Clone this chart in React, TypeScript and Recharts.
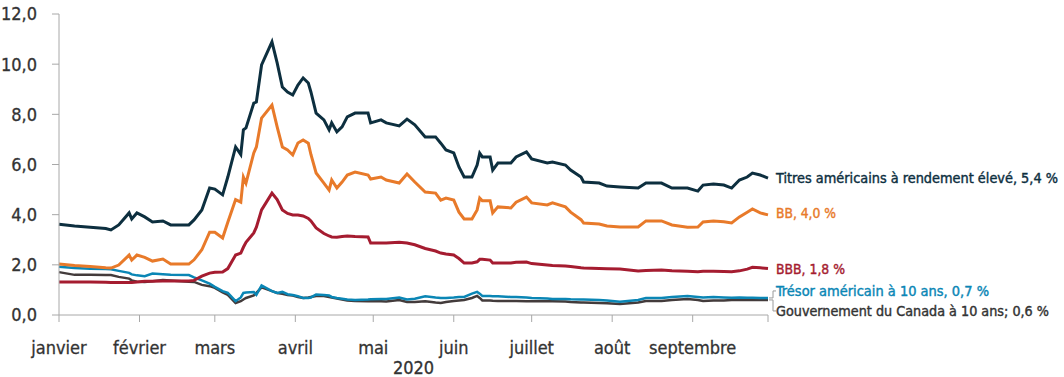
import { Line, LineChart, XAxis, YAxis } from 'recharts';

// day of year 2020 (0 = Jan 1) for each sampled point
const DAYS = [
  0, 6, 12, 18, 20, 23, 27, 28, 30, 33, 36, 40, 43, 50, 52, 55, 58, 60, 63, 65,
  68, 70, 71, 72, 75, 76, 78, 82, 84, 86, 88, 90, 92, 94, 96, 97, 99, 102, 104, 105,
  107, 109, 111, 114, 119, 120, 124, 126, 131, 134, 137, 141, 145, 147, 149, 152, 154, 156, 159, 161,
  162, 163, 166, 167, 169, 174, 176, 180, 182, 188, 190, 195, 197, 201, 202, 208, 211, 216, 223, 226,
  232, 236, 242, 246, 248, 252, 256, 259, 262, 265, 267, 270, 273,
];

const HIGH_YIELD = [
  3.62, 3.55, 3.5, 3.45, 3.39, 3.59, 4.07, 3.83, 4.07, 3.91, 3.71, 3.75, 3.59, 3.59, 3.79, 4.19, 5.06, 5.02, 4.79, 5.5,
  6.7, 6.4, 7.38, 7.46, 8.45, 8.49, 9.97, 10.89, 10.05, 9.09, 8.89, 8.77, 9.17, 9.45, 9.25, 8.89, 8.05, 7.78, 7.38, 7.66,
  7.3, 7.5, 7.9, 8.05, 8.05, 7.66, 7.78, 7.66, 7.54, 7.81, 7.58, 7.1, 7.1, 6.85, 6.58, 6.46, 5.9, 5.5, 5.5, 5.98,
  6.45, 6.3, 6.3, 5.78, 6.06, 6.06, 6.3, 6.5, 6.22, 6.06, 6.1, 5.98, 5.78, 5.5, 5.3, 5.26, 5.14, 5.1, 5.06, 5.26,
  5.26, 5.06, 5.06, 4.94, 5.18, 5.22, 5.18, 5.06, 5.38, 5.5, 5.66, 5.58, 5.46,
];

const BB = [
  2.03, 1.97, 1.93, 1.88, 1.87, 1.99, 2.39, 2.19, 2.39, 2.3, 2.15, 2.23, 2.03, 2.03, 2.2, 2.6, 3.3, 3.3, 3.07, 3.7,
  4.6, 4.5, 5.5, 5.26, 6.46, 6.7, 7.85, 8.37, 7.5, 6.7, 6.58, 6.38, 6.86, 6.98, 6.85, 6.4, 5.66, 5.26, 4.98, 5.38,
  5.06, 5.3, 5.58, 5.7, 5.58, 5.42, 5.5, 5.38, 5.26, 5.62, 5.3, 4.9, 4.86, 4.58, 4.66, 4.58, 4.1, 3.83, 3.83, 4.19,
  4.66, 4.55, 4.55, 4.07, 4.31, 4.27, 4.5, 4.7, 4.47, 4.39, 4.47, 4.31, 4.1, 3.8, 3.67, 3.63, 3.55, 3.51, 3.51, 3.75,
  3.75, 3.59, 3.5, 3.51, 3.71, 3.75, 3.72, 3.67, 3.91, 4.1, 4.23, 4.07, 3.99,
];

const BBB = [
  1.32, 1.32, 1.32, 1.31, 1.3, 1.3, 1.3, 1.3, 1.32, 1.35, 1.35, 1.36, 1.36, 1.36, 1.38, 1.55, 1.67, 1.7, 1.71, 1.85,
  2.39, 2.47, 2.7, 2.9, 3.27, 3.5, 4.19, 4.86, 4.6, 4.19, 4.05, 3.99, 3.99, 3.95, 3.85, 3.75, 3.47, 3.25, 3.15, 3.11,
  3.1, 3.13, 3.15, 3.13, 3.11, 2.87, 2.87, 2.87, 2.9, 2.87, 2.8, 2.65, 2.55, 2.47, 2.43, 2.39, 2.25, 2.07, 2.07, 2.12,
  2.22, 2.22, 2.19, 2.07, 2.07, 2.07, 2.1, 2.11, 2.05, 1.99, 1.97, 1.95, 1.93, 1.88, 1.87, 1.85, 1.84, 1.83, 1.75, 1.77,
  1.79, 1.76, 1.74, 1.72, 1.74, 1.74, 1.73, 1.72, 1.76, 1.83, 1.9, 1.88, 1.85,
];

const US_10Y = [
  1.92, 1.87, 1.84, 1.83, 1.82, 1.76, 1.68, 1.62, 1.58, 1.55, 1.65, 1.62, 1.6, 1.59, 1.5, 1.38, 1.25, 1.12, 0.95, 0.88,
  0.55, 0.7, 0.88, 0.9, 0.92, 0.8, 1.18, 0.95, 0.88, 0.92, 0.83, 0.8, 0.75, 0.68, 0.68, 0.7, 0.82, 0.8, 0.78, 0.72,
  0.68, 0.65, 0.62, 0.6, 0.62, 0.63, 0.64, 0.64, 0.7, 0.62, 0.65, 0.75, 0.7, 0.68, 0.68, 0.7, 0.72, 0.72, 0.85, 0.92,
  0.85, 0.76, 0.76, 0.75, 0.75, 0.72, 0.72, 0.7, 0.68, 0.66, 0.64, 0.64, 0.63, 0.62, 0.62, 0.6, 0.58, 0.53, 0.6, 0.68,
  0.68, 0.72, 0.76, 0.72, 0.7, 0.72, 0.7, 0.69, 0.7, 0.69, 0.69, 0.68, 0.68,
];

const CANADA_10Y = [
  1.71, 1.6, 1.6, 1.59, 1.59, 1.52, 1.45, 1.38, 1.33, 1.32, 1.35, 1.4, 1.38, 1.33, 1.32, 1.2, 1.15, 1.08, 0.9, 0.8,
  0.48, 0.55, 0.62, 0.68, 0.78, 0.88, 1.1, 0.95, 0.88, 0.85, 0.8, 0.78, 0.72, 0.68, 0.7, 0.72, 0.76, 0.76, 0.72, 0.7,
  0.66, 0.62, 0.58, 0.56, 0.55, 0.56, 0.55, 0.54, 0.6, 0.52, 0.52, 0.55, 0.5, 0.48, 0.52, 0.56, 0.58, 0.6, 0.68, 0.76,
  0.68, 0.58, 0.58, 0.57, 0.56, 0.56, 0.56, 0.55, 0.55, 0.55, 0.55, 0.54, 0.52, 0.5, 0.5, 0.48, 0.47, 0.44, 0.5, 0.56,
  0.56, 0.6, 0.64, 0.6, 0.56, 0.58, 0.58, 0.6, 0.6, 0.6, 0.6, 0.6, 0.6,
];

const MONTH_TICKS = [0, 31, 60, 91, 121, 152, 182, 213, 244, 273];
const MONTH_LABELS = ['janvier', 'février', 'mars', 'avril', 'mai', 'juin', 'juillet', 'août', 'septembre', ''];
const Y_TICKS = [0, 2, 4, 6, 8, 10, 12];

const FONT = "'DejaVu Sans Condensed', 'DejaVu Sans', sans-serif";
const AXIS = '#a8a8a8';
const TICK_TEXT = { fill: '#333', stroke: '#333', strokeWidth: 0.3, fontSize: 18, fontFamily: FONT };

const data = DAYS.map((day, i) => ({
  day,
  hy: HIGH_YIELD[i],
  bb: BB[i],
  bbb: BBB[i],
  us: US_10Y[i],
  ca: CANADA_10Y[i],
}));

// label drawn only at the last point of a series; width fits the text to the original's narrow font
function endLabel(text: string, color: string, width: number, dy: number, bracket = false) {
  return (props: any) => {
    const { index } = props;
    const x = props.x ?? props.viewBox?.x;
    const y = props.y ?? props.viewBox?.y;
    if (index !== DAYS.length - 1) return <g key={index} />;
    const ty = y + dy;
    return (
      <g key={index}>
        {bracket && (
          <path d={`M${x + 1},${y} H${x + 5} V${ty} H${x + 8}`} stroke="#9a9a9a" fill="none" />
        )}
        <text
          x={x + 8}
          y={ty}
          dominantBaseline="central"
          fill={color}
          stroke={color}
          strokeWidth={0.4}
          fontSize={14}
          fontFamily={FONT}
          textLength={width}
          lengthAdjust="spacingAndGlyphs"
        >
          {text}
        </text>
      </g>
    );
  };
}

export default function App() {
  return (
    <div style={{ position: 'absolute', left: 0, top: 0, background: '#fff' }}>
      <LineChart width={1064} height={377} data={data} margin={{ top: 14, right: 296, left: 0, bottom: 0 }}>
        <XAxis
          dataKey="day"
          type="number"
          domain={[0, 273]}
          ticks={MONTH_TICKS}
          tickFormatter={(v) => MONTH_LABELS[MONTH_TICKS.indexOf(v)] ?? ''}
          stroke={AXIS}
          tickSize={7}
          tickMargin={19}
          height={62}
          tick={TICK_TEXT}
          label={{ value: '2020', position: 'insideBottom', offset: 3, ...TICK_TEXT }}
        />
        <YAxis
          domain={[0, 12]}
          ticks={Y_TICKS}
          tickFormatter={(v) => v.toFixed(1).replace('.', ',')}
          stroke={AXIS}
          tickSize={7}
          tickMargin={15}
          width={59}
          tick={TICK_TEXT}
        />
        <Line
          dataKey="ca"
          stroke="#433b3b"
          strokeWidth={2.5}
          dot={false}
          isAnimationActive={false}
          label={endLabel('Gouvernement du Canada à 10 ans; 0,6 %', '#333', 273, 11, true)}
        />
        <Line
          dataKey="us"
          stroke="#0a86b5"
          strokeWidth={2.5}
          dot={false}
          isAnimationActive={false}
          label={endLabel('Trésor américain à 10 ans, 0,7 %', '#0a86b5', 213, -7, true)}
        />
        <Line
          dataKey="bbb"
          stroke="#a51c30"
          strokeWidth={3}
          dot={false}
          isAnimationActive={false}
          label={endLabel('BBB, 1,8 %', '#a51c30', 69, 0)}
        />
        <Line
          dataKey="bb"
          stroke="#e87a2a"
          strokeWidth={3}
          dot={false}
          isAnimationActive={false}
          label={endLabel('BB, 4,0 %', '#e87a2a', 60, -2)}
        />
        <Line
          dataKey="hy"
          stroke="#0d2f3f"
          strokeWidth={3}
          dot={false}
          isAnimationActive={false}
          label={endLabel('Titres américains à rendement élevé, 5,4 %', '#0d2f3f', 282, 0)}
        />
      </LineChart>
    </div>
  );
}
